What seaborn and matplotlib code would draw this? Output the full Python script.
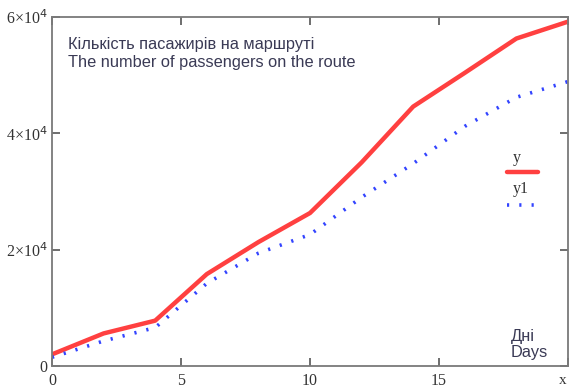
import matplotlib
matplotlib.use("Agg")
import matplotlib.pyplot as plt
from matplotlib.lines import Line2D
import seaborn as sns
import pandas as pd

days = [0, 2, 4, 6, 8, 10, 12, 14, 16, 18, 20]
y = [2000, 5600, 7800, 15800, 21300, 26300, 35000, 44600, 50400, 56300, 59200]
y1 = [1500, 4300, 6600, 14200, 19400, 22600, 29000, 34800, 41200, 46200, 48900]
ytick_vals = [0, 20000, 40000, 60000]
ytick_labels = ["0", "2×10$^{4}$", "4×10$^{4}$", "6×10$^{4}$"]
xtick_vals = [0, 5, 10, 15, 20]
xtick_labels = ["0", "5", "10", "15", ""]
title_lines = ["Кількість пасажирів на маршруті", "The number of passengers on the route"]
series_names = ["y", "y1"]
xlabel_lines = ["Дні", "Days"]

sns.set_theme(style="white")
plt.rcParams['font.family'] = ['Liberation Sans', 'DejaVu Sans']

df = pd.DataFrame({"x": days + days, "v": y + y1,
                   "s": ["y"] * len(days) + ["y1"] * len(days)})

fig = plt.figure(figsize=(5.72, 3.88), dpi=100)
ax = fig.add_axes([52 / 572, 22 / 388, 516 / 572, 349 / 388])

red = "#ff4040"
blue = "#3344ff"
sns.lineplot(data=df[df.s == "y"], x="x", y="v", ax=ax, color=red, lw=3.2, legend=False)
sns.lineplot(data=df[df.s == "y1"], x="x", y="v", ax=ax, color=blue, lw=2.6,
             linestyle=(0, (0.6, 2.8)), legend=False)

ax.set_xlim(0, 20)
ax.set_ylim(0, 60000)
ax.set_xticks(xtick_vals)
ax.set_xticklabels(xtick_labels)
ax.set_yticks(ytick_vals)
ax.set_yticklabels(ytick_labels)
ax.set_xlabel("")
ax.set_ylabel("")
for sp in ax.spines.values():
    sp.set_color("#7a7a7a")
    sp.set_linewidth(1.3)
ax.tick_params(direction="in", length=6, width=1.2, color="#555555",
               top=True, right=True, bottom=True, left=True,
               labelsize=11.5, labelcolor="#333333")
ax.tick_params(axis="x", pad=5)
ax.tick_params(axis="y", pad=3)
for lab in ax.get_xticklabels() + ax.get_yticklabels():
    lab.set_fontfamily("Liberation Serif")

ax.text((563 - 52) / 516, -14 / 349, "x", transform=ax.transAxes, ha="center", va="center",
        fontsize=11, family="Liberation Serif", color="#333333")

tcol = "#3a3a55"
fs = 11.8
ax.text(16 / 516, 1 - 28 / 349, title_lines[0], transform=ax.transAxes,
        fontsize=fs, color=tcol, va="center")
ax.text(16 / 516, 1 - 45 / 349, title_lines[1], transform=ax.transAxes,
        fontsize=fs, color=tcol, va="center")

ax.text(459 / 516, 1 - 319 / 349, xlabel_lines[0], transform=ax.transAxes,
        fontsize=fs, color=tcol, va="center")
ax.text(459 / 516, 1 - 336 / 349, xlabel_lines[1], transform=ax.transAxes,
        fontsize=fs, color=tcol, va="center")

# legend
ax.text(461 / 516, 1 - 141 / 349, series_names[0], transform=ax.transAxes,
        fontsize=11.5, family="Liberation Serif", color="#333333", va="center")
ax.add_line(Line2D([455 / 516, 486 / 516], [1 - 155 / 349, 1 - 155 / 349],
                   transform=ax.transAxes, color=red, lw=3.2))
ax.text(461 / 516, 1 - 172 / 349, series_names[1], transform=ax.transAxes,
        fontsize=11.5, family="Liberation Serif", color="#333333", va="center")
ax.add_line(Line2D([455 / 516, 486 / 516], [1 - 188 / 349, 1 - 188 / 349],
                   transform=ax.transAxes, color=blue, lw=2.6,
                   linestyle=(0, (0.6, 2.8))))

fig.savefig("out.png", dpi=100)
